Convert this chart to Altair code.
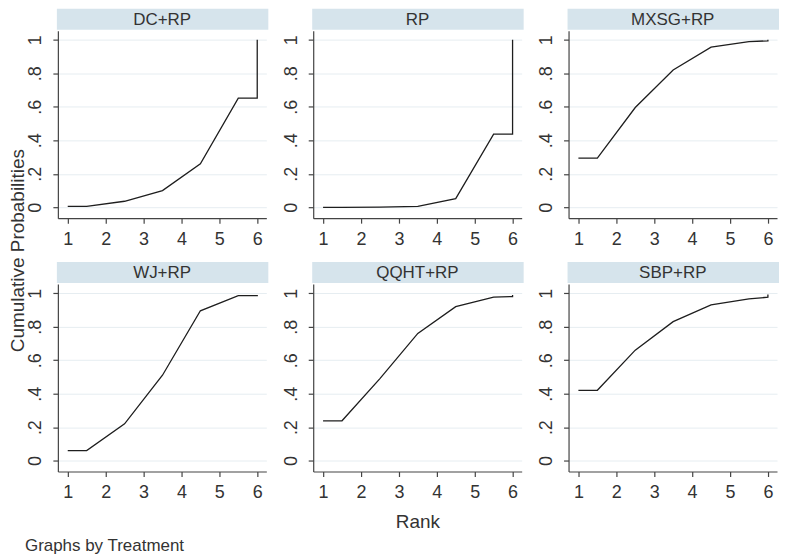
import altair as alt
import pandas as pd

treatments = ["DC+RP", "RP", "MXSG+RP", "WJ+RP", "QQHT+RP", "SBP+RP"]
rank_x = [1, 1.5, 2.5, 3.5, 4.5, 5.5, 6, 6]
cum_dc = [0.006, 0.006, 0.036, 0.10, 0.26, 0.652, 0.652, 1.0]
cum_rp = [0.0, 0.0, 0.001, 0.006, 0.052, 0.437, 0.437, 1.0]
cum_mxsg = [0.294, 0.294, 0.596, 0.82, 0.956, 0.99, 0.994, 1.0]
cum_wj = [0.06, 0.06, 0.22, 0.51, 0.895, 0.986, 0.986, 0.99]
cum_qqht = [0.238, 0.238, 0.49, 0.76, 0.92, 0.976, 0.98, 0.99]
cum_sbp = [0.42, 0.42, 0.66, 0.83, 0.93, 0.966, 0.976, 0.992]
series = [cum_dc, cum_rp, cum_mxsg, cum_wj, cum_qqht, cum_sbp]
y_ticks = [0, 0.2, 0.4, 0.6, 0.8, 1]
x_ticks = [1, 2, 3, 4, 5, 6]

W, H = 209, 188
HDR = 22
FONT = "Liberation Sans"
TXT = "#333333"

label_expr = "datum.value == 0 ? '0' : datum.value == 1 ? '1' : replace(format(datum.value, '.1f'), '0.', '.')"


def panel(i):
    name = treatments[i]
    df = pd.DataFrame({"rank": rank_x, "cum": series[i], "order": list(range(len(rank_x)))})
    row, col = divmod(i, 3)
    ytitle = "Cumulative Probabilities" if (row == 0 and col == 0) else None
    xtitle = "Rank" if (row == 1 and col == 1) else None
    yaxis_kw = dict(
        values=y_ticks, labelExpr=label_expr, labelAngle=270, labelAlign="center",
        labelBaseline="bottom", labelPadding=8, tickSize=5, grid=True,
        gridColor="#e6edf1", gridWidth=1,
    )
    if ytitle:
        yaxis_kw.update(title=ytitle, titleX=-40, titleY=250 - 30, titleAngle=270,
                        titleAlign="center", titleBaseline="middle", titleFontSize=19)
    else:
        yaxis_kw.update(title=None)
    xaxis_kw = dict(values=x_ticks, labelAngle=0, tickSize=5, labelPadding=7, grid=False)
    if xtitle:
        xaxis_kw.update(title=xtitle, titlePadding=11)
    else:
        xaxis_kw.update(title=None)

    line = alt.Chart(df).mark_line(color="#1e1e1e", strokeWidth=1.3, clip=True).encode(
        x=alt.X("rank:Q", scale=alt.Scale(domain=[0.74, 6.24], nice=False, zero=False),
                axis=alt.Axis(**xaxis_kw)),
        y=alt.Y("cum:Q", scale=alt.Scale(domain=[-0.065, 1.055], nice=False, zero=False),
                axis=alt.Axis(**yaxis_kw)),
        order="order:Q",
    )
    hdr_df = pd.DataFrame({"t": [name]})
    band = alt.Chart(hdr_df).mark_rect(color="#d6e4ec").encode(
        x=alt.value(-1), x2=alt.value(W + 2), y=alt.value(-HDR), y2=alt.value(-1)
    )
    text = alt.Chart(hdr_df).mark_text(font=FONT, fontSize=17, color=TXT, baseline="middle",
                                       align="center").encode(
        text="t:N", x=alt.value(W / 2), y=alt.value(-HDR / 2)
    )
    return alt.layer(band, line, text).properties(width=W, height=H)


chart = alt.concat(*[panel(i) for i in range(6)], columns=3,
                   spacing={"row": 66, "column": 47}, bounds="flush").properties(
    title=alt.TitleParams("Graphs by Treatment", orient="bottom", anchor="start", fontSize=17,
                          fontWeight="normal", font=FONT, color=TXT, offset=7, dx=16),
    padding={"left": 1, "top": 0, "right": 0, "bottom": 0},
    background="white",
).configure_view(stroke=None).configure_axis(
    labelFont=FONT, titleFont=FONT, labelFontSize=18, titleFontSize=19,
    labelColor=TXT, titleColor=TXT, titleFontWeight="normal",
    domainColor="#444444", tickColor="#444444", domainWidth=1.2, tickWidth=1.2,
)

chart.save("out.html", embed_options={"renderer": "svg", "actions": False})
